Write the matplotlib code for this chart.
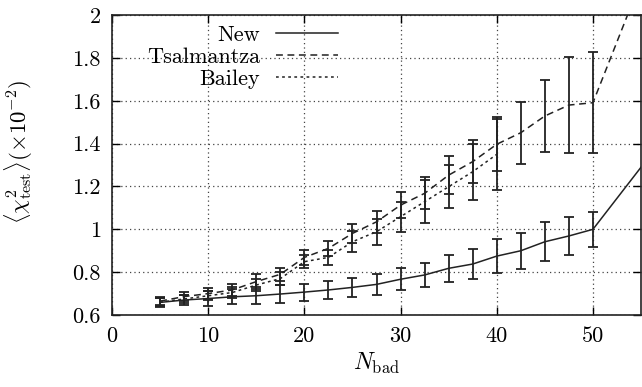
import numpy as np
import matplotlib
matplotlib.use("Agg")
import matplotlib.pyplot as plt

plt.rcParams['font.family'] = 'serif'
plt.rcParams['font.serif'] = ['cmr10']
plt.rcParams['mathtext.fontset'] = 'cm'
plt.rcParams['axes.formatter.use_mathtext'] = True

# data
n_bad = [5, 7.5, 10, 12.5, 15, 17.5, 20, 22.5, 25, 27.5, 30, 32.5, 35,
         37.5, 40, 42.5, 45, 47.5, 50]

new_y = [0.659, 0.670, 0.677, 0.685, 0.690, 0.698, 0.707, 0.717, 0.729, 0.743,
         0.767, 0.787, 0.818, 0.838, 0.875, 0.900, 0.942, 0.969, 1.000]
new_err = [0.02, 0.025, 0.035, 0.035, 0.04, 0.04, 0.04, 0.04, 0.045, 0.048,
           0.052, 0.055, 0.062, 0.068, 0.08, 0.084, 0.09, 0.087, 0.083]

tsal_y = [0.665, 0.686, 0.700, 0.717, 0.756, 0.790, 0.869, 0.911, 0.981, 1.035,
          1.113, 1.168, 1.253, 1.316, 1.397, 1.451, 1.529, 1.580, 1.591]
tsal_err = [0.02, 0.02, 0.025, 0.03, 0.035, 0.03, 0.035, 0.035, 0.045, 0.05,
            0.06, 0.075, 0.09, 0.10, 0.125, 0.145, 0.17, 0.225, 0.235]

bailey_x = [5, 7.5, 10, 12.5, 15, 17.5, 20, 22.5, 25, 27.5, 30, 32.5, 35, 37.5, 40]
bailey_y = [0.660, 0.675, 0.690, 0.705, 0.740, 0.770, 0.849, 0.869, 0.942, 0.989,
            1.059, 1.129, 1.199, 1.269, 1.350]
bailey_err = [0.02, 0.02, 0.02, 0.025, 0.03, 0.03, 0.03, 0.035, 0.05, 0.06,
              0.07, 0.10, 0.10, 0.13, 0.165]

# last point of each line, beyond the error bars
tail_x = 55
new_tail = 1.29
tsal_tail = 2.16

xticks = [0, 10, 20, 30, 40, 50]
yticks = [0.6, 0.8, 1.0, 1.2, 1.4, 1.6, 1.8, 2.0]
ytick_labels = ['0.6', '0.8', '1', '1.2', '1.4', '1.6', '1.8', '2']

fig = plt.figure(figsize=(6.42, 3.87), dpi=100)
ax = fig.add_axes([0.1745, 0.186, 0.824, 0.775])

col = '#222222'
ax.plot(n_bad + [tail_x], new_y + [new_tail], color=col, lw=1.1,
        ls='-', label='New')
ax.plot(n_bad + [tail_x], tsal_y + [tsal_tail], color=col, lw=1.1,
        ls=(0, (4.5, 3)), label='Tsalmantza')
ax.plot(bailey_x, bailey_y, color=col, lw=1.1, ls=(0, (1.8, 2.2)),
        label='Bailey')

for x, y, e in [(n_bad, new_y, new_err), (n_bad, tsal_y, tsal_err),
                (bailey_x, bailey_y, bailey_err)]:
    ax.errorbar(x, y, yerr=e, fmt='none', ecolor=col, elinewidth=1.3,
                capsize=3.3, capthick=1.3)

ax.set_xlim(0, 55)
ax.set_ylim(0.6, 2.0)
ax.set_xticks(xticks)
ax.set_xticklabels([str(t) for t in xticks])
ax.set_yticks(yticks)
ax.set_yticklabels(ytick_labels)
ax.tick_params(direction='in', length=5.5, width=1, top=True, right=True,
               labelsize=16, pad=8)
ax.grid(True, ls=(0, (1, 2.5)), color='#444444', lw=0.9)
for s in ax.spines.values():
    s.set_linewidth(1.2)
    s.set_color('#222222')

ax.set_xlabel(r'$N_{\rm bad}$', fontsize=17, labelpad=4)
ax.set_ylabel(r'$\langle\chi^2_{\rm test}\rangle(\times10^{-2})$', fontsize=16.5)
ax.yaxis.set_label_coords(-0.145, 0.545)

ax.legend(loc='upper right', bbox_to_anchor=(0.427, 0.965), frameon=False,
          markerfirst=False, fontsize=16, handlelength=2.8, handletextpad=0.7,
          labelspacing=0.1, borderpad=0, borderaxespad=0)

fig.savefig('out.png', dpi=100)
